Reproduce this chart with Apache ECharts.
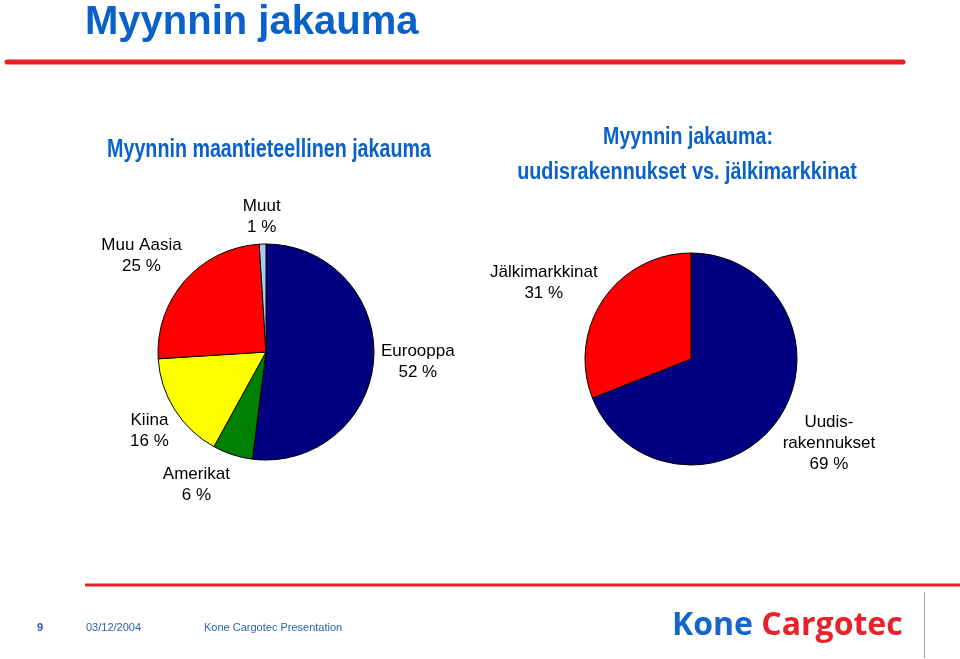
<!DOCTYPE html>
<html>
<head>
<meta charset="utf-8">
<script src="https://cdn.jsdelivr.net/npm/echarts@6/dist/echarts.min.js"></script>
<style>
html,body{margin:0;padding:0;background:#fff;}
#chart{width:960px;height:659px;}
</style>
</head>
<body>
<div id="chart"></div>
<script>
// ---- data ----
const pageTitle = 'Myynnin jakauma';
const geoTitle = 'Myynnin maantieteellinen jakauma';
const marketTitle = ['Myynnin jakauma:', 'uudisrakennukset vs. jälkimarkkinat'];

const geoCategories = ['Eurooppa', 'Amerikat', 'Kiina', 'Muu Aasia', 'Muut'];
const geoValues = [52, 6, 16, 25, 1];

const marketCategories = ['Uudis-\nrakennukset', 'Jälkimarkkinat'];
const marketValues = [69, 31];

const footerPage = '9';
const footerDate = '03/12/2004';
const footerText = 'Kone Cargotec Presentation';

// ---- styles ----
const geoColors = ['#000080', '#008000', '#ffff00', '#ff0000', '#a6caf0'];
const marketColors = ['#000080', '#ff0000'];
const titleBlue = '#0a62c9';
const labelFont = 'Liberation Sans, Arial, sans-serif';

function placeLabel(gap, nudges) {
  return function (p) {
    const pts = p.labelLinePoints;
    if (!pts) return {};
    const dx = pts[1][0] - pts[0][0], dy = pts[1][1] - pts[0][1];
    const len = Math.hypot(dx, dy) || 1;
    const ux = dx / len, uy = dy / len;
    const hw = p.labelRect.width / 2, hh = p.labelRect.height / 2;
    const d = gap + hw * Math.abs(ux) + hh * Math.abs(uy);
    const n = (nudges && nudges[p.dataIndex]) || [0, 0];
    return {
      x: pts[0][0] + ux * d + n[0],
      y: pts[0][1] + uy * d + n[1],
      align: 'center',
      verticalAlign: 'middle'
    };
  };
}

function pieSeries(names, values, colors, center, radius, nudges) {
  return {
    type: 'pie',
    center: center,
    radius: radius,
    startAngle: 90,
    clockwise: true,
    avoidLabelOverlap: false,
    silent: true,
    animation: false,
    data: names.map((n, i) => ({ name: n, value: values[i], itemStyle: { color: colors[i] } })),
    itemStyle: { borderColor: '#000', borderWidth: 1 },
    label: {
      show: true,
      position: 'outside',
      formatter: '{b}\n{c} %',
      fontFamily: labelFont,
      fontSize: 17,
      lineHeight: 21,
      color: '#000'
    },
    labelLine: { show: true, length: 10, length2: 0, lineStyle: { opacity: 0, width: 0 } },
    labelLayout: placeLabel(6, nudges),
    emphasis: { disabled: true }
  };
}

function txt(x, y, text, font, fill, align, sy) {
  return {
    type: 'text', x: x, y: y, scaleY: sy || 1, silent: true,
    style: { text: text, font: font, fill: fill, textAlign: align || 'left', textVerticalAlign: 'middle' }
  };
}

const chart = echarts.init(document.getElementById('chart'), null, { renderer: 'canvas' });
chart.setOption({
  backgroundColor: '#ffffff',
  animation: false,
  series: [
    pieSeries(geoCategories, geoValues, geoColors, [266, 352], 108, { 1: [-25, -4], 2: [3, 3], 3: [-6, 8] }),
    pieSeries(marketCategories, marketValues, marketColors, [691, 359], 106, { 0: [-1, -10], 1: [-8, 18] })
  ],
  graphic: [
    txt(85, 23, pageTitle, 'bold 40px Liberation Sans, Arial, sans-serif', titleBlue),
    { type: 'line', silent: true, shape: { x1: 7, y1: 62, x2: 903, y2: 62 }, style: { stroke: '#ee1c25', lineWidth: 5, lineCap: 'round' } },
    txt(269, 150, geoTitle, 'bold 19.7px Liberation Sans, Arial, sans-serif', titleBlue, 'center', 1.35),
    txt(688, 137, marketTitle[0], 'bold 19.6px Liberation Sans, Arial, sans-serif', titleBlue, 'center', 1.25),
    txt(687, 172, marketTitle[1], 'bold 19.8px Liberation Sans, Arial, sans-serif', titleBlue, 'center', 1.25),
    { type: 'line', silent: true, shape: { x1: 85, y1: 585, x2: 960, y2: 585 }, style: { stroke: '#e32228', lineWidth: 3 } },
    { type: 'line', silent: true, shape: { x1: 924.5, y1: 592, x2: 924.5, y2: 658 }, style: { stroke: '#a0a0a0', lineWidth: 1 } },
    txt(40, 628, footerPage, 'bold 11px Liberation Sans, Arial, sans-serif', '#1f5aa6', 'center'),
    txt(86, 628, footerDate, '11px Liberation Sans, Arial, sans-serif', '#2a62b0'),
    txt(204, 628, footerText, '11px Liberation Sans, Arial, sans-serif', '#2a62b0'),
    {
      type: 'text', x: 672, y: 626, silent: true,
      style: {
        text: '{k|Kone} {c|Cargotec}',
        textVerticalAlign: 'middle',
        rich: {
          k: { font: 'bold 32px Open Sans, Liberation Sans, sans-serif', fill: '#1467c9' },
          c: { font: 'bold 32px Open Sans, Liberation Sans, sans-serif', fill: '#e8222a' }
        },
        font: 'bold 32px Open Sans, Liberation Sans, sans-serif'
      }
    }
  ]
});
</script>
</body>
</html>
